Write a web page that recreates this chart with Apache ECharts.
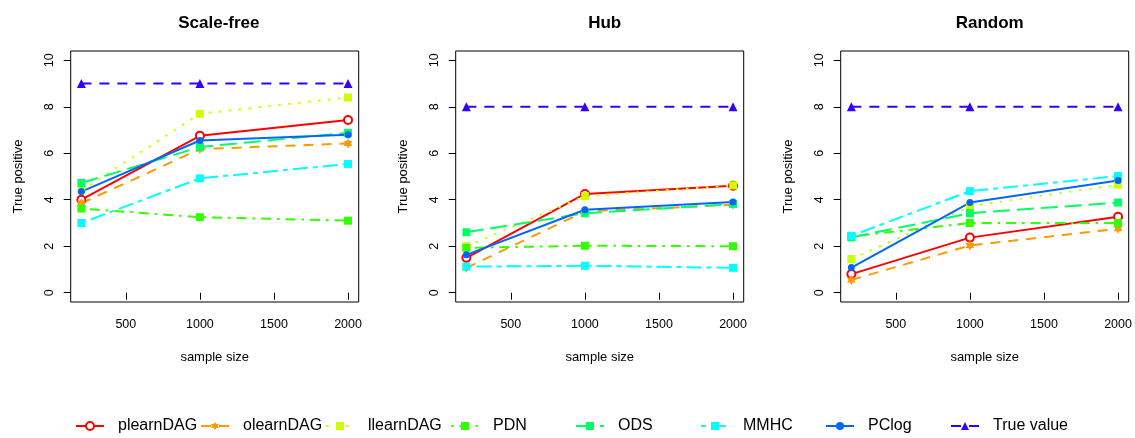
<!DOCTYPE html>
<html>
<head>
<meta charset="utf-8">
<script src="https://cdn.jsdelivr.net/npm/echarts@6/dist/echarts.min.js"></script>
<style>html,body{margin:0;padding:0;background:#fff;}#c{width:1135px;height:438px;}</style>
</head>
<body>
<div id="c"></div>
<script>
// ---- data ----
const panelTitles = ['Scale-free', 'Hub', 'Random'];
const sampleSizes = [200, 1000, 2000];
const xTicks = [500, 1000, 1500, 2000];
const yTicks = [0, 2, 4, 6, 8, 10];
const methods = ['plearnDAG', 'olearnDAG', 'llearnDAG', 'PDN', 'ODS', 'MMHC', 'PClog', 'True value'];

// Scale-free
const sf_plearnDAG = [4.0, 6.75, 7.43];
const sf_olearnDAG = [3.85, 6.18, 6.42];
const sf_llearnDAG = [4.4, 7.7, 8.4];
const sf_PDN = [3.62, 3.25, 3.1];
const sf_ODS = [4.72, 6.27, 6.88];
const sf_MMHC = [3.0, 4.92, 5.54];
const sf_PClog = [4.35, 6.55, 6.8];
const sf_True = [9, 9, 9];
// Hub
const hub_plearnDAG = [1.5, 4.25, 4.6];
const hub_olearnDAG = [1.07, 3.5, 3.78];
const hub_llearnDAG = [2.0, 4.15, 4.62];
const hub_PDN = [1.93, 2.02, 2.0];
const hub_ODS = [2.6, 3.42, 3.82];
const hub_MMHC = [1.12, 1.16, 1.07];
const hub_PClog = [1.63, 3.57, 3.9];
const hub_True = [8, 8, 8];
// Random
const rnd_plearnDAG = [0.8, 2.37, 3.27];
const rnd_olearnDAG = [0.55, 2.03, 2.75];
const rnd_llearnDAG = [1.45, 3.72, 4.65];
const rnd_PDN = [2.42, 3.0, 3.0];
const rnd_ODS = [2.38, 3.42, 3.88];
const rnd_MMHC = [2.45, 4.37, 5.02];
const rnd_PClog = [1.08, 3.88, 4.83];
const rnd_True = [8, 8, 8];

const panelData = [
  [sf_plearnDAG, sf_olearnDAG, sf_llearnDAG, sf_PDN, sf_ODS, sf_MMHC, sf_PClog, sf_True],
  [hub_plearnDAG, hub_olearnDAG, hub_llearnDAG, hub_PDN, hub_ODS, hub_MMHC, hub_PClog, hub_True],
  [rnd_plearnDAG, rnd_olearnDAG, rnd_llearnDAG, rnd_PDN, rnd_ODS, rnd_MMHC, rnd_PClog, rnd_True]
];

// ---- styles ----
const FONT = '"Liberation Sans", Arial, Helvetica, sans-serif';
const colors = ['#FF0000', '#FF9900', '#CCFF00', '#33FF00', '#00FF66', '#00FFFF', '#0066FF', '#3300FF'];
const dashes = ['solid', [10, 8], [2.5, 7.5], [2.5, 6, 10, 6], [17, 7], [5, 5, 15, 5], 'solid', [10, 8]];
const hexagram = 'path://M10,0L18.66,15L1.34,15ZM10,20L1.34,5L18.66,5Z';
const symbols = ['emptyCircle', hexagram, 'rect', 'rect', 'rect', 'rect', 'circle', 'triangle'];
const symSizes = [8, 10, 8, 8, 8, 8, 7, 9];

const grids = [], xAxes = [], yAxes = [], series = [], titles = [], legends = [];
const gridLeft = [70.7, 455.7, 840.7];
const titleW = [83, 33, 68];
for (let p = 0; p < 3; p++) {
  grids.push({left: gridLeft[p], top: 51, width: 288, height: 251, show: true,
    borderColor: '#000', borderWidth: 1, backgroundColor: 'transparent'});
  titles.push({text: panelTitles[p], left: gridLeft[p] + 144 - titleW[p] / 2, top: 10,
    textStyle: {fontFamily: FONT, fontSize: 17, fontWeight: 'bold', color: '#000'}});
  xAxes.push({type: 'value', gridIndex: p, min: 128, max: 2072,
    name: 'sample size', nameLocation: 'middle', nameGap: 49,
    nameTextStyle: {fontFamily: FONT, fontSize: 13, color: '#000'},
    axisLine: {show: false},
    axisTick: {show: true, inside: false, length: 7, customValues: xTicks, lineStyle: {color: '#000'}},
    axisLabel: {customValues: xTicks, margin: 16, fontFamily: FONT, fontSize: 12.5, color: '#000',
      formatter: v => String(v)},
    splitLine: {show: false}});
  yAxes.push({type: 'value', gridIndex: p, min: -0.4, max: 10.4,
    name: 'True positive', nameLocation: 'middle', nameGap: 46,
    nameTextStyle: {fontFamily: FONT, fontSize: 13, color: '#000'},
    axisLine: {show: false},
    axisTick: {show: true, inside: false, length: 7, customValues: yTicks, lineStyle: {color: '#000'}},
    axisLabel: {customValues: yTicks, rotate: 90, margin: 15, fontFamily: FONT, fontSize: 12.5, color: '#000',
      formatter: v => String(v)},
    splitLine: {show: false}});
  for (let m = 0; m < methods.length; m++) {
    const vals = panelData[p][m];
    const isEmpty = m === 0;
    series.push({
      type: 'line', name: methods[m], xAxisIndex: p, yAxisIndex: p,
      data: sampleSizes.map((x, i) => [x, vals[i]]),
      symbol: symbols[m], symbolSize: symSizes[m], symbolKeepAspect: true,
      showSymbol: true, showAllSymbol: true,
      lineStyle: {color: colors[m], width: 2, type: dashes[m]},
      itemStyle: isEmpty ? {color: colors[m], borderColor: colors[m], borderWidth: 2}
                         : {color: colors[m], borderWidth: 0},
      emphasis: {disabled: true}, silent: true, animation: false
    });
  }
}
for (let m = 0; m < methods.length; m++) {
  legends.push({
    data: [methods[m]], left: 75 + 125 * m, top: 418, padding: 0,
    itemWidth: 28, itemHeight: 10, selectedMode: false,
    textStyle: {fontFamily: FONT, fontSize: 16, color: '#000', padding: [0, 0, 0, 9]}
  });
}

const chart = echarts.init(document.getElementById('c'), null, {renderer: 'canvas'});
chart.setOption({
  backgroundColor: '#fff',
  animation: false,
  title: titles,
  grid: grids,
  xAxis: xAxes,
  yAxis: yAxes,
  legend: legends,
  series: series
});
</script>
</body>
</html>
